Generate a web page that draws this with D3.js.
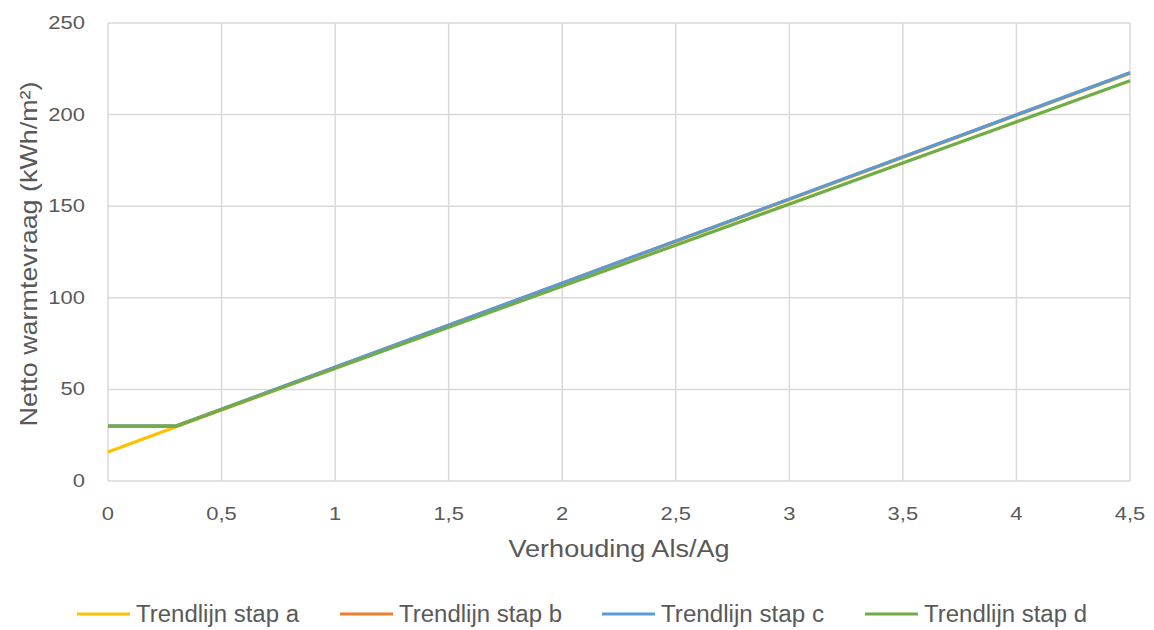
<!DOCTYPE html>
<html><head><meta charset="utf-8">
<script src="https://cdn.jsdelivr.net/npm/d3@7"></script>
<style>body{margin:0;background:#fff;} svg{display:block;font-family:"Liberation Sans",Arial,sans-serif;}</style>
</head><body>
<svg id="c" width="1154" height="630"></svg>
<script>
const xPoints = [0, 0.3, 4.5];
const stapA = [15.8, 29.6, 222.5];
const stapB = [30, 30, 222.8];
const stapC = [30, 30, 222.8];
const stapD = [30, 30, 218.5];
const seriesNames = ["Trendlijn stap a","Trendlijn stap b","Trendlijn stap c","Trendlijn stap d"];
const seriesColors = ["#FFC000","#ED7D31","#5B9BD5","#70AD47"];
const xTicks = [0,0.5,1,1.5,2,2.5,3,3.5,4,4.5];
const yTicks = [0,50,100,150,200,250];

const svg = d3.select("#c");
const L=108,R=1130,T=23,B=481;
const x = d3.scaleLinear().domain([0,4.5]).range([L,R]);
const y = d3.scaleLinear().domain([0,250]).range([B,T]);
const txt="#595959", grid="#d9d9d9";
const fmt = d => String(d).replace(".", ",");
function stretch(sel,k){ sel.each(function(){ const w=this.getComputedTextLength(); this.setAttribute("textLength",w*k); this.setAttribute("lengthAdjust","spacingAndGlyphs"); }); }

svg.append("g").selectAll("line").data(yTicks).join("line")
  .attr("x1",L).attr("x2",R).attr("y1",d=>y(d)).attr("y2",d=>y(d))
  .attr("stroke",grid).attr("stroke-width",1.5);
svg.append("g").selectAll("line").data(xTicks).join("line")
  .attr("x1",d=>x(d)).attr("x2",d=>x(d)).attr("y1",T).attr("y2",B)
  .attr("stroke",grid).attr("stroke-width",1.5);

const yl = svg.append("g").selectAll("text").data(yTicks).join("text")
  .attr("x",L-23).attr("y",d=>y(d)+6).attr("text-anchor","end")
  .attr("fill",txt).attr("font-size",18).text(d=>d);
stretch(yl,1.22);
const xl = svg.append("g").selectAll("text").data(xTicks).join("text")
  .attr("x",d=>x(d)).attr("y",B+39).attr("text-anchor","middle")
  .attr("fill",txt).attr("font-size",18).text(fmt);
stretch(xl,1.22);

const xt = svg.append("text").attr("x",(L+R)/2).attr("y",557).attr("text-anchor","middle")
  .attr("fill",txt).attr("font-size",23.5).text("Verhouding Als/Ag");
xt.attr("textLength",221).attr("lengthAdjust","spacingAndGlyphs");
const yt = svg.append("text").attr("transform",`translate(37,254) rotate(-90)`).attr("text-anchor","middle")
  .attr("fill",txt).attr("font-size",24.5).text("Netto warmtevraag (kWh/m²)");
yt.attr("textLength",345).attr("lengthAdjust","spacingAndGlyphs");

const all=[stapA,stapB,stapC,stapD];
const line=d3.line().x((d,i)=>x(xPoints[i])).y(d=>y(d));
all.forEach((s,k)=>{
  svg.append("path").datum(s).attr("d",line).attr("fill","none")
    .attr("stroke",seriesColors[k]).attr("stroke-width",3.2);
});

const legX=[77,340,602,865];
const lg=svg.append("g");
seriesNames.forEach((n,k)=>{
  lg.append("line").attr("x1",legX[k]).attr("x2",legX[k]+53).attr("y1",614).attr("y2",614)
    .attr("stroke",seriesColors[k]).attr("stroke-width",3.2);
  lg.append("text").attr("x",legX[k]+59).attr("y",622).attr("fill",txt).attr("font-size",23)
    .attr("textLength",163).attr("lengthAdjust","spacingAndGlyphs").text(n);
});
</script>
</body></html>
